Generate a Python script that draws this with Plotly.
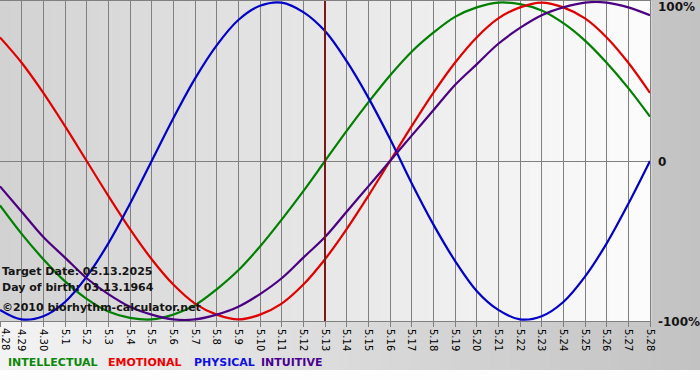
import plotly.graph_objects as go

# ---------------- data ----------------
dates = ["2025-04-%02d" % d for d in (28, 29, 30)] + ["2025-05-%02d" % d for d in range(1, 29)]
tick_labels = ["4.28", "4.29", "4.30"] + ["5.%d" % d for d in range(1, 29)]

intellectual = [-0.28, -0.46, -0.62, -0.76, -0.87, -0.95, -0.99, -1.00, -0.97, -0.91, -0.81, -0.69, -0.54, -0.37, -0.19,
                0.00, 0.19, 0.37, 0.54, 0.69, 0.81, 0.91, 0.97, 1.00, 0.99, 0.95, 0.87, 0.76, 0.62, 0.46, 0.28]
emotional = [0.78, 0.62, 0.43, 0.22, 0.00, -0.22, -0.43, -0.62, -0.78, -0.90, -0.97, -1.00, -0.97, -0.90, -0.78,
             -0.62, -0.43, -0.22, 0.00, 0.22, 0.43, 0.62, 0.78, 0.90, 0.97, 1.00, 0.97, 0.90, 0.78, 0.62, 0.43]
physical = [-0.94, -1.00, -0.98, -0.89, -0.73, -0.52, -0.27, 0.00, 0.27, 0.52, 0.73, 0.89, 0.98, 1.00, 0.94,
            0.82, 0.63, 0.40, 0.14, -0.14, -0.40, -0.63, -0.82, -0.94, -1.00, -0.98, -0.89, -0.73, -0.52, -0.27, 0.00]
intuitive = [-0.16, -0.32, -0.48, -0.61, -0.74, -0.84, -0.92, -0.97, -1.00, -1.00, -0.97, -0.92, -0.84, -0.74, -0.61,
             -0.48, -0.32, -0.16, 0.00, 0.16, 0.32, 0.48, 0.61, 0.74, 0.84, 0.92, 0.97, 1.00, 1.00, 0.97, 0.92]

series_names = ["INTELLECTUAL", "EMOTIONAL", "PHYSICAL", "INTUITIVE"]
target_date = "2025-05-13"
target_text = "Target Date: 05.13.2025"
birth_text = "Day of birth: 03.13.1964"
copyright_text = "©2010 biorhythm-calculator.net"

# ---------------- styling ----------------
W, H = 700, 380
ML, MR, MT, MB = 0, 50, 1, 59
PW, PH = W - ML - MR, H - MT - MB
FONT = "DejaVu Sans"
line_colors = ["#008000", "#e00000", "#0000c8", "#4b0082"]
text_colors = ["#0a880a", "#f00000", "#1010e0", "#4b0090"]


def px_x(p):
    return (p - ML) / PW


def px_y(p):
    return (H - MB - p) / PH


def hexg(v):
    v = int(round(v))
    return "#%02x%02x%02x" % (v, v, v)


fig = go.Figure()
for vals, name, col in zip([intellectual, emotional, physical, intuitive], series_names, line_colors):
    fig.add_trace(go.Scatter(x=dates, y=vals, name=name, mode="lines",
                             line=dict(color=col, width=2.2, shape="spline", smoothing=1.0),
                             showlegend=False, hoverinfo="skip"))

shapes = []
# outer background gradient (light left -> gray right), down to y=370px
N = 70
for i in range(N):
    x0 = i * W / N
    x1 = (i + 1) * W / N
    c = 243 - (243 - 194) * (i + 0.5) / N
    shapes.append(dict(type="rect", xref="paper", yref="paper", x0=px_x(x0), x1=px_x(x1) + 0.002,
                       y0=px_y(370), y1=px_y(-2), fillcolor=hexg(c), line=dict(width=0), layer="below"))
# plot area gradient (gray left -> white right)
N2 = 65
for i in range(N2):
    c = 210 - (210 - 252) * (i + 0.5) / N2
    shapes.append(dict(type="rect", xref="paper", yref="paper", x0=i / N2, x1=(i + 1) / N2 + 0.002,
                       y0=0, y1=1, fillcolor=hexg(c), line=dict(width=0), layer="below"))
# target date marker
shapes.append(dict(type="line", xref="x", yref="paper", x0=target_date, x1=target_date, y0=0, y1=1,
                   line=dict(color="#7d1818", width=2), layer="above"))

annotations = []
for txt, yc in [(target_text, 271), (birth_text, 287), (copyright_text, 307)]:
    annotations.append(dict(text=txt, xref="paper", yref="paper", x=px_x(1), y=px_y(yc),
                            xanchor="left", yanchor="middle", showarrow=False, borderpad=0,
                            font=dict(family=FONT, size=11, color="#151515", weight="bold")))
for txt, yc in [("100%", 7), ("0", 162), ("-100%", 322)]:
    annotations.append(dict(text=txt, xref="paper", yref="paper", x=px_x(657), y=px_y(yc),
                            xanchor="left", yanchor="middle", showarrow=False, borderpad=0,
                            font=dict(family=FONT, size=12, color="#151515", weight="bold")))
legend_x = [7, 107, 193, 260]
for name, col, lx in zip(series_names, text_colors, legend_x):
    annotations.append(dict(text=name, xref="paper", yref="paper", x=px_x(lx), y=px_y(362),
                            xanchor="left", yanchor="middle", showarrow=False, borderpad=0,
                            font=dict(family=FONT, size=11, color=col, weight="bold")))
# first date label, kept at the left edge
annotations.append(dict(text=tick_labels[0], xref="paper", yref="paper", x=px_x(6), y=px_y(327),
                        xanchor="center", yanchor="top", textangle=90, showarrow=False, borderpad=0,
                        font=dict(family=FONT, size=10, color="#000000")))

fig.update_layout(
    width=W, height=H,
    margin=dict(l=ML, r=MR, t=MT, b=MB, pad=0),
    paper_bgcolor="#fdfdfd", plot_bgcolor="rgba(0,0,0,0)",
    shapes=shapes, annotations=annotations,
    xaxis=dict(type="date", range=[dates[0], dates[-1]], tickvals=dates, ticktext=tick_labels,
               tickangle=90, tickfont=dict(family=FONT, size=10, color="#000000"),
               showgrid=True, gridcolor="#808080", gridwidth=1,
               ticks="outside", ticklen=5, tickcolor="#808080", tickwidth=1,
               showline=True, mirror=True, linecolor="#808080", linewidth=1, zeroline=False),
    yaxis=dict(range=[-1.01, 1.01], showgrid=False, showticklabels=False,
               zeroline=True, zerolinecolor="#808080", zerolinewidth=1,
               showline=True, mirror=True, linecolor="#808080", linewidth=1),
    font=dict(family=FONT),
)

fig.write_html("out.html", config={"displayModeBar": False},
               post_script="document.body.style.margin='0';document.body.style.padding='0';")
